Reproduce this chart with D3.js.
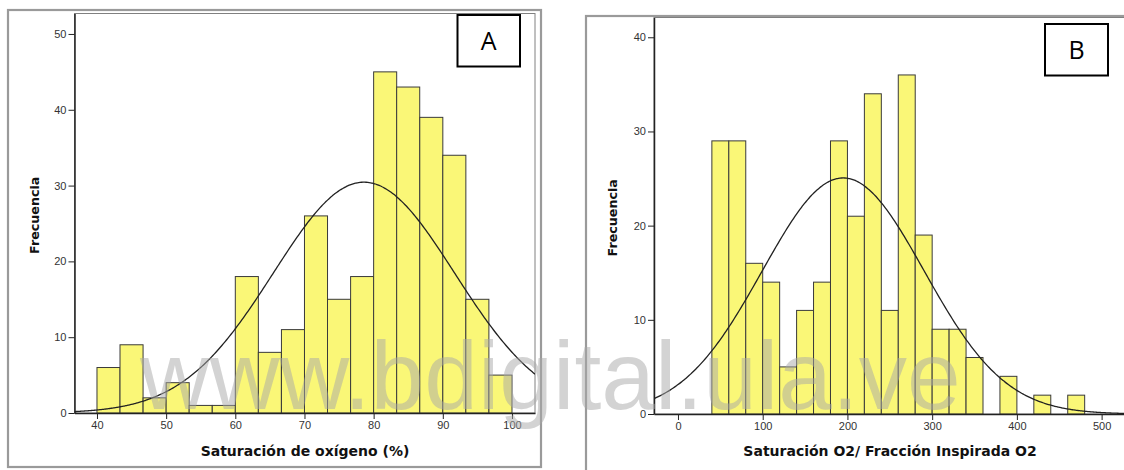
<!DOCTYPE html>
<html>
<head>
<meta charset="utf-8">
<script src="https://cdn.jsdelivr.net/npm/d3@7"></script>
<style>
  body { margin: 0; background: #fff; }
  svg { display: block; }
  .tick text { font-family: "Liberation Sans", Arial, sans-serif; font-size: 11px; fill: #333; }
  .tick line { stroke: #222; }
  .domain { stroke: #222; }
</style>
</head>
<body>
<div id="chart-area"></div>
<script>
// Panel A - Saturacion de oxigeno (%)
var binsA = [40, 43.33, 46.67, 50, 53.33, 56.67, 60, 63.33, 66.67, 70, 73.33, 76.67, 80, 83.33, 86.67, 90, 93.33, 96.67];
var countsA = [6, 9, 2, 4, 1, 1, 18, 8, 11, 26, 15, 18, 45, 43, 39, 34, 15, 5];
var binWidthA = 3.333;
var xTicksA = [40, 50, 60, 70, 80, 90, 100];
var yTicksA = [0, 10, 20, 30, 40, 50];
var meanA = 78.6, sdA = 13.1;

// Panel B - Saturacion O2 / Fraccion inspirada O2
var binsB = [40, 60, 80, 100, 120, 140, 160, 180, 200, 220, 240, 260, 280, 300, 320, 340, 360, 380, 400, 420, 440, 460];
var countsB = [29, 29, 16, 14, 5, 11, 14, 29, 21, 34, 11, 36, 19, 9, 9, 6, 0, 4, 0, 2, 0, 2];
var binWidthB = 20;
var xTicksB = [0, 100, 200, 300, 400, 500];
var yTicksB = [0, 10, 20, 30, 40];
var meanB = 195, sdB = 95.5;

var svg = d3.select("#chart-area").append("svg")
    .attr("width", 1124)
    .attr("height", 470);

function panel(cfg) {
    var n = d3.sum(cfg.counts);

    // marco exterior
    svg.append("rect")
        .attr("x", cfg.frame[0]).attr("y", cfg.frame[1])
        .attr("width", cfg.frame[2]).attr("height", cfg.frame[3])
        .attr("fill", "none").attr("stroke", "#9a9a9a").attr("stroke-width", 2.2);

    var x = d3.scaleLinear().domain(cfg.xDomain).range([cfg.left, cfg.right]);
    var y = d3.scaleLinear().domain(cfg.yDomain).range([cfg.bottom, cfg.top]);

    // marco del area de trazado
    svg.append("rect")
        .attr("x", cfg.left).attr("y", cfg.top)
        .attr("width", cfg.right - cfg.left).attr("height", cfg.bottom - cfg.top)
        .attr("fill", "#fff").attr("stroke", "#808080").attr("stroke-width", 1);

    var clipId = "clip" + cfg.name;
    svg.append("clipPath").attr("id", clipId)
        .append("rect")
        .attr("x", cfg.left).attr("y", cfg.top)
        .attr("width", cfg.right - cfg.left).attr("height", cfg.bottom - cfg.top);

    var g = svg.append("g").attr("clip-path", "url(#" + clipId + ")");

    g.selectAll("rect.bar")
        .data(cfg.bins.map(function(b, i) { return { x0: b, c: cfg.counts[i] }; })
            .filter(function(d) { return d.c > 0; }))
        .enter().append("rect")
        .attr("class", "bar")
        .attr("x", function(d) { return x(d.x0); })
        .attr("width", function(d) { return x(d.x0 + cfg.binWidth) - x(d.x0); })
        .attr("y", function(d) { return y(d.c); })
        .attr("height", function(d) { return y(0) - y(d.c); })
        .attr("fill", "#faf777")
        .attr("stroke", "#3a3a3a")
        .attr("stroke-width", 1);

    // curva normal ajustada
    var pts = d3.range(cfg.xDomain[0], cfg.xDomain[1], (cfg.xDomain[1] - cfg.xDomain[0]) / 300)
        .concat([cfg.xDomain[1]]);
    var line = d3.line()
        .x(function(v) { return x(v); })
        .y(function(v) {
            var z = (v - cfg.mean) / cfg.sd;
            return y(n * cfg.binWidth * Math.exp(-0.5 * z * z) / (cfg.sd * Math.sqrt(2 * Math.PI)));
        })
        .curve(d3.curveBasis);
    g.append("path")
        .datum(pts)
        .attr("d", line)
        .attr("fill", "none")
        .attr("stroke", "#222")
        .attr("stroke-width", 1.3);

    // ejes
    var xAxis = svg.append("g")
        .attr("transform", "translate(0," + cfg.bottom + ")")
        .call(d3.axisBottom(x).tickValues(cfg.xTicks).tickSize(6).tickSizeOuter(0).tickPadding(2));
    xAxis.select(".domain").attr("stroke-width", 1.5);

    var yAxis = svg.append("g")
        .attr("transform", "translate(" + cfg.left + ",0)")
        .call(d3.axisLeft(y).tickValues(cfg.yTicks).tickSize(6).tickSizeOuter(0).tickPadding(2));
    yAxis.select(".domain").attr("stroke-width", 1.5);

    svg.append("text")
        .attr("transform", "translate(" + cfg.yLabelX + "," + ((cfg.top + cfg.bottom) / 2 + 2) + ") rotate(-90)")
        .attr("text-anchor", "middle")
        .attr("font-family", "DejaVu Sans, Verdana, sans-serif")
        .attr("font-weight", "bold")
        .attr("font-size", "12.7px")
        .attr("fill", "#111")
        .text("Frecuencia");

    svg.append("text")
        .attr("x", cfg.xLabelX)
        .attr("y", 456)
        .attr("text-anchor", "middle")
        .attr("font-family", "DejaVu Sans, Verdana, sans-serif")
        .attr("font-weight", "bold")
        .attr("font-size", "14px")
        .attr("fill", "#111")
        .text(cfg.xLabel);

    // recuadro con la letra
    svg.append("rect")
        .attr("x", cfg.box[0]).attr("y", cfg.box[1])
        .attr("width", cfg.box[2]).attr("height", cfg.box[3])
        .attr("fill", "#fff").attr("stroke", "#000").attr("stroke-width", 2);
    svg.append("text")
        .attr("x", cfg.box[0] + cfg.box[2] / 2)
        .attr("y", cfg.box[1] + cfg.box[3] / 2 + 9)
        .attr("text-anchor", "middle")
        .attr("font-family", "Open Sans, sans-serif")
        .attr("font-size", "25px")
        .attr("fill", "#000")
        .text(cfg.name);
}

panel({
    name: "A", bins: binsA, counts: countsA, binWidth: binWidthA,
    xTicks: xTicksA, yTicks: yTicksA, mean: meanA, sd: sdA,
    frame: [8, 10, 533, 457],
    left: 74.5, right: 535, top: 13.5, bottom: 413,
    xDomain: [36.75, 103.33], yDomain: [0, 52.7],
    yLabelX: 39, xLabelX: 305,
    xLabel: "Saturación de oxígeno (%)",
    box: [457.5, 15, 62.5, 51.5]
});

panel({
    name: "B", bins: binsB, counts: countsB, binWidth: binWidthB,
    xTicks: xTicksB, yTicks: yTicksB, mean: meanB, sd: sdB,
    frame: [586, 16, 560, 470],
    left: 654, right: 1135, top: 17.5, bottom: 414,
    xDomain: [-28.3, 539.4], yDomain: [0, 42.1],
    yLabelX: 617, xLabelX: 890,
    xLabel: "Saturación O2/ Fracción Inspirada O2",
    box: [1045, 24, 63, 51.5]
});

// marca de agua
svg.append("text")
    .attr("x", 140)
    .attr("y", 409)
    .attr("font-family", "Liberation Sans, Arial, sans-serif")
    .attr("font-size", "96.5px")
    .attr("fill", "#a8a8a8")
    .attr("fill-opacity", 0.5)
    .text("www.bdigital.ula.ve");
</script>
</body>
</html>
